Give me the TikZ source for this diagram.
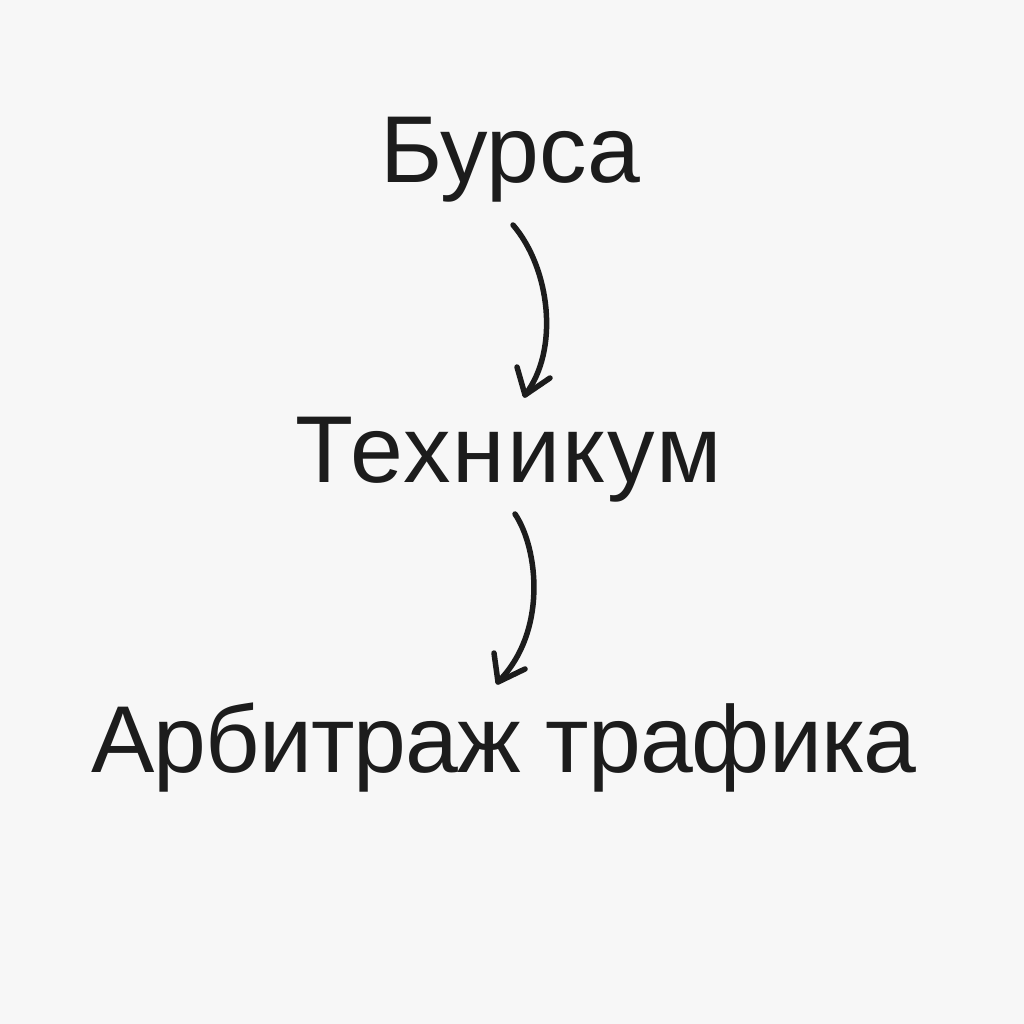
\documentclass[tikz,border=0pt]{standalone}
\usepackage{fontspec}
\setmainfont{Liberation Sans}
\newfontfamily\widefont[LetterSpace=2.3]{Liberation Sans}
\newfontfamily\narrowfont[LetterSpace=-1.1]{Liberation Sans}
\definecolor{bg}{RGB}{247,247,247}
\definecolor{ink}{RGB}{28,28,28}
\begin{document}
\begin{tikzpicture}[x=1pt,y=-1pt,
  lbl/.style={anchor=base,inner sep=0pt,text=ink,font=\fontsize{95}{95}\selectfont},
  conn/.style={draw=ink,line width=5.5pt,line cap=round,line join=round}]
\fill[bg] (0,0) rectangle (1024,1024);
\useasboundingbox (0,0) rectangle (1024,1024);
\node[lbl] (b) at (510,183) {Бурса};
\node[lbl] (t) at (508.5,482) {\widefont Техникум};
\node[lbl] (a) at (504,772) {\narrowfont Арбитраж трафика};
\coordinate (s1) at (513,225);
\coordinate (e1) at (525,395);
\coordinate (l1) at (517,367);
\coordinate (r1) at (550,378);
\coordinate (s2) at (515,514);
\coordinate (e2) at (498,682);
\coordinate (l2) at (494,653);
\coordinate (r2) at (525,669);
\draw[conn] (s1) .. controls (550,268) and (560,350) .. (e1);
\draw[conn] (l1) -- (e1) -- (r1);
\draw[conn] (s2) .. controls (538,548) and (548,632) .. (e2);
\draw[conn] (l2) -- (e2) -- (r2);
\end{tikzpicture}
\end{document}
